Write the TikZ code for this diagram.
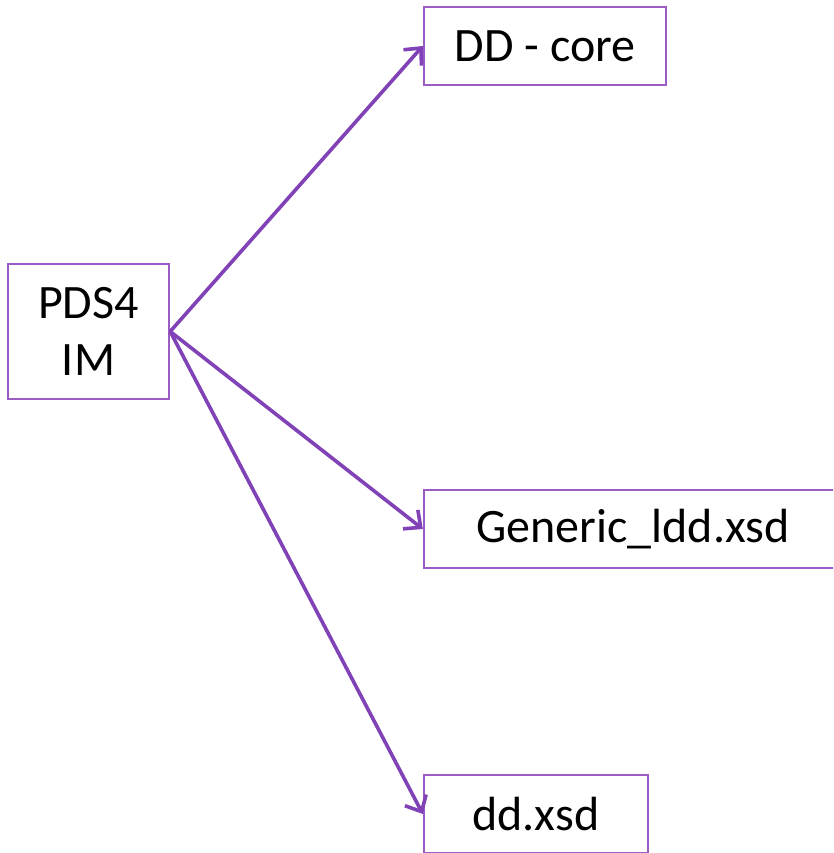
\documentclass[tikz,border=0pt]{standalone}
\usepackage{fontspec}
\setmainfont{Carlito}
\usetikzlibrary{arrows.meta}
\definecolor{boxline}{RGB}{155,92,196}
\definecolor{arrowline}{RGB}{128,66,182}
\begin{document}
\begin{tikzpicture}[x=1pt,y=1pt,
  box/.style={draw=boxline,line width=2.4pt,rectangle,inner sep=0pt,
    font=\fontsize{48}{57}\selectfont,text=black,align=center},
  link/.style={draw=arrowline,line width=3.6pt,
    -{Straight Barb[length=13pt,width=24pt,line width=3.6pt]}}]
\useasboundingbox (0,0) rectangle (833,-853);
\clip (0,0) rectangle (833,-853);
% source node
\node[box,minimum width=161pt,minimum height=135pt] (im) at (88.5,-331.5) {PDS4\\IM};
% targets
\node[box,minimum width=242pt,minimum height=78pt] (core) at (545,-46) {DD - core};
\node[box,minimum width=418pt,minimum height=78pt] (generic) at (633,-529) {Generic\_ldd.xsd};
\node[box,minimum width=224pt,minimum height=78pt] (dd) at (536,-814) {dd.xsd};
% connectors
\draw[link] (im.east) -- (core.west);
\draw[link] (im.east) -- (generic.west);
\draw[link] (im.east) -- (dd.west);
\end{tikzpicture}
\end{document}
